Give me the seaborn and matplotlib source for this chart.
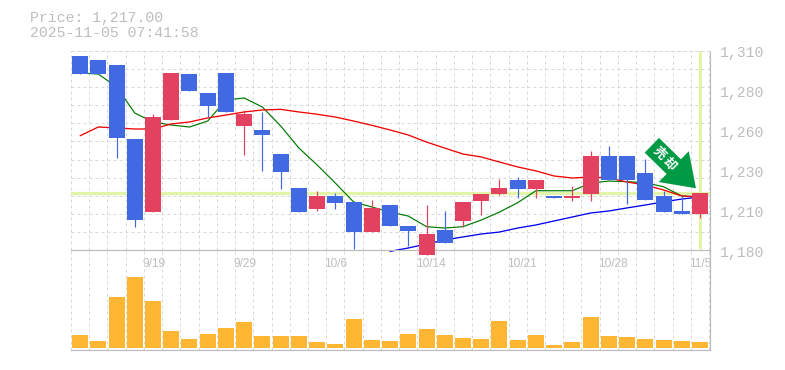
import numpy as np
import pandas as pd
import matplotlib
matplotlib.use("Agg")
import matplotlib.pyplot as plt
import seaborn as sns

open_ = [1306.5,1303.9,1300.7,1252.5,1204.9,1264.9,1294.8,1282.5,1295.5,1261.0,1258.4,1242.7,1220.6,1206.9,1215.4,1211.5,1191.9,1209.5,1195.8,1176.9,1193.2,1199.1,1212.1,1216.7,1225.8,1219.9,1215.4,1214.1,1216.7,1241.4,1241.4,1230.4,1215.4,1205.6,1203.6]
close = [1294.8,1294.8,1253.1,1199.7,1266.8,1295.5,1283.8,1274.0,1270.1,1268.8,1255.1,1231.0,1204.9,1215.4,1210.8,1191.9,1207.6,1195.8,1192.6,1190.6,1184.8,1211.5,1216.7,1220.6,1219.9,1225.8,1214.1,1215.4,1241.4,1225.8,1225.8,1212.8,1204.9,1203.6,1217.3]
high = [1306.5,1303.9,1300.7,1252.5,1268.8,1295.5,1294.8,1282.5,1295.5,1271.4,1270.1,1242.7,1220.6,1218.6,1217.3,1211.5,1212.8,1209.5,1195.8,1209.5,1205.6,1211.5,1216.7,1226.4,1227.7,1225.8,1215.4,1221.9,1244.7,1247.9,1241.4,1239.5,1218.6,1215.4,1217.3]
low = [1294.8,1294.8,1240.1,1195.2,1204.9,1264.9,1283.8,1266.8,1270.1,1242.1,1231.7,1219.9,1204.9,1205.6,1206.9,1180.9,1191.9,1195.8,1182.8,1176.9,1184.8,1195.2,1203.0,1216.0,1214.1,1214.1,1214.1,1212.1,1212.1,1225.8,1210.2,1212.8,1204.9,1203.6,1201.0]
volume = [13,7,51,71,47,17,9,14,20,26,12,12,12,6,4,29,8,7,14,19,13,10,9,27,8,13,3,6,31,12,11,9,8,7,6]
ma_short = [1295.5,1294.8,1286.4,1269.4,1263.6,1261.6,1260.3,1264.2,1277.9,1279.2,1273.3,1261.0,1246.6,1235.6,1223.8,1211.5,1208.2,1204.9,1202.3,1195.4,1194.5,1195.4,1199.7,1204.9,1211.0,1218.8,1218.8,1218.8,1223.8,1225.1,1224.7,1224.0,1221.4,1215.4,1214.7]
ma_mid = [1254.6,1260.3,1259.7,1259.0,1259.0,1262.3,1263.6,1266.2,1268.1,1270.1,1271.4,1271.8,1270.1,1268.6,1266.8,1264.2,1261.4,1258.4,1255.1,1250.5,1246.6,1242.7,1240.8,1237.5,1234.3,1231.7,1228.4,1227.1,1227.7,1227.1,1224.5,1222.5,1219.3,1215.4,1214.7]
ma_long = [1179.3,1181.5,1184.1,1186.7,1188.7,1190.6,1191.9,1194.5,1196.5,1199.1,1201.7,1204.3,1205.6,1207.6,1209.5,1211.5,1213.4,1214.7]
ma_long_start = 17
date_index = [4,9,14,19,24,29,34]
date_labels = ["9/19","9/29","10/6","10/14","10/21","10/28","11/5"]
price_labels = ["1,310","1,280","1,260","1,230","1,210","1,180"]
last_price = 1217.0
title_lines = ["Price: 1,217.00","2025-11-05 07:41:58"]
signal_text = "売却"

W, H = 785, 370
L, R = 70.5, 710.0
PT, PB, VB = 50.7, 250.3, 350.0
UP, DOWN = "#E2425F", "#4169E1"
GRID, AXC, TXT = "#D8D8D8", "#BBBBBB", "#BEBEBE"
HL = "#E1F4A8"
MONO = "Liberation Mono"

sns.set_theme(style="white")
plt.rcParams["font.family"] = ["Liberation Sans", "Noto Sans CJK JP", "DejaVu Sans"]

fig = plt.figure(figsize=(W/100, H/100), dpi=100, facecolor="white")
def box(t, b):
    return [L/W, 1-b/H, (R-L)/W, (b-t)/H]
ax = fig.add_axes(box(PT, PB))
vx = fig.add_axes(box(PB, VB))
vx.set_facecolor("none")
n = len(close)
idx = np.arange(n)
xlim = (-0.527, 34.55)
px = lambda v: v*72/100

lines = pd.DataFrame({"i": idx, "short": ma_short, "mid": ma_mid})
sns.lineplot(data=lines, x="i", y="short", color="#007A00", lw=px(1.2), ax=ax, zorder=2, errorbar=None)
sns.lineplot(data=lines, x="i", y="mid", color="#F00000", lw=px(1.3), ax=ax, zorder=2, errorbar=None)
sns.lineplot(x=idx[ma_long_start:], y=ma_long, color="#0000F0", lw=px(1.3), ax=ax, zorder=2, errorbar=None)
for ln in ax.lines:
    ln.set_clip_on(False)

sns.barplot(x=idx, y=volume, color="#FFB733", saturation=1, width=16/18.235, ax=vx, zorder=3, linewidth=0, errorbar=None)

for a in (ax, vx):
    a.set_xlim(*xlim)
    a.set_xticks(np.arange(0, n+1)-0.5)
    a.set_xticklabels([])
    a.set_xlabel("")
    a.set_ylabel("")
    a.tick_params(axis="both", which="both", length=0, labelbottom=False, labelleft=False)
    a.xaxis.grid(True, color=GRID, lw=px(1), ls=(0, (3, 3)))
    a.set_axisbelow(True)
    for s in a.spines.values():
        s.set_visible(False)
    for side in ("right", "bottom"):
        a.spines[side].set_visible(True)
        a.spines[side].set_color(AXC)
        a.spines[side].set_linewidth(px(1.2))

vx.set_ylim(-2, VB-PB-2)
vx.set_yticks([])

ax.set_ylim(1180, 1310)
ax.set_yticks(np.linspace(1180, 1310, 12))
ax.set_yticklabels([])
ax.yaxis.grid(True, color=GRID, lw=px(1), ls=(0, (3, 3)))
ax.spines["top"].set_visible(True)
ax.spines["top"].set_color(GRID)
ax.spines["top"].set_linestyle((0, (3, 3)))
ax.spines["top"].set_linewidth(px(1))

ax.axhline(last_price, color=HL, lw=px(3.2), zorder=1.5)
ax.vlines(n-1, 1181, 1310, color=HL, lw=px(3), zorder=1.5)

colors = [UP if c > o else DOWN for o, c in zip(open_, close)]
ax.vlines(idx, low, high, colors=colors, lw=px(1.2), zorder=3, clip_on=False)
o, c = np.array(open_), np.array(close)
ax.bar(idx, np.abs(c-o), bottom=np.minimum(o, c), width=16/18.235, color=colors, zorder=4, clip_on=False, linewidth=0)

ax.annotate("", xy=(33.78, 1220.4), xytext=(31.36, 1248.4),
            arrowprops=dict(facecolor="#009944", edgecolor="none", width=px(20.5),
                            headwidth=px(43), headlength=px(31), shrink=0), zorder=5,
            annotation_clip=False)
for ch, xc, yc in zip(signal_text, (31.75, 32.3), (1243.6, 1236.0)):
    ax.text(xc, yc, ch, color="white", fontsize=9, fontweight="bold", rotation=-45,
            ha="center", va="center", family="Noto Sans CJK JP", zorder=6)

ax.set_xticks(np.array(date_index)-0.6, minor=True)
ax.set_xticklabels(date_labels, minor=True, ha="left", fontsize=8.6, color=TXT)
ax.tick_params(axis="x", which="minor", length=0, pad=px(7.5), labelbottom=True)

for lab, f in zip(price_labels, np.linspace(0, 1, 6)):
    y = PT + 2 + f*200
    fig.text(720/W, 1-y/H, lab, fontsize=10.7, color=TXT, family=MONO, ha="left", va="center")
for t, y in zip(title_lines, (18, 33)):
    fig.text(29.5/W, 1-y/H, t, fontsize=10.7, color=TXT, family=MONO, ha="left", va="center")

fig.savefig("out.png", dpi=100, facecolor="white")
